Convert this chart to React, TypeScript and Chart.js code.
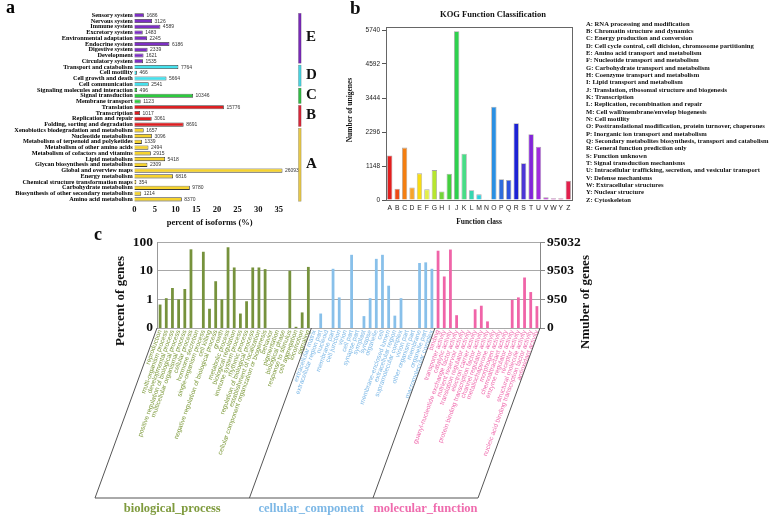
import React, { useEffect, useRef } from "react";
import { Chart, registerables } from "chart.js";

Chart.register(...registerables);

const SERIF = '"Liberation Serif", "Times New Roman", serif';
const SANS = '"Liberation Sans", Arial, sans-serif';

// ---------------- Panel a: pathway classification ----------------
const pathwayNames = [
  "Sensory system", "Nervous system", "Immune system", "Excretory system",
  "Environmental adaptation", "Endocrine system", "Digestive system", "Development",
  "Circulatory system", "Transport and catabolism", "Cell motility", "Cell growth and death",
  "Cell communication", "Signaling molecules and interaction", "Signal transduction",
  "Membrane transport", "Translation", "Transcription", "Replication and repair",
  "Folding, sorting and degradation", "Xenobiotics biodegradation and metabolism",
  "Nucleotide metabolism", "Metabolism of terpenoid and polyketides",
  "Metabolism of other amino acids", "Metabolism of cofactors and vitamins",
  "Lipid metabolism", "Glycan biosynthesis and metabolism", "Global and overview maps",
  "Energy metabolism", "Chemical structure transformation maps", "Carbohydrate metabolism",
  "Biosynthesis of other secondary metabolism", "Amino acid metabolism",
];
const pathwayCounts = [
  1686, 3126, 4589, 1483, 2245, 6186, 2339, 1621, 1535, 7764, 466, 5664, 2541, 496, 10346,
  1123, 15776, 1017, 3061, 8691, 1657, 3096, 1339, 2494, 2915, 5418, 2309, 26093, 6816, 354,
  9780, 1214, 8370,
];
const pathwayClass = [
  "E", "E", "E", "E", "E", "E", "E", "E", "E",
  "D", "D", "D", "D",
  "C", "C", "C",
  "B", "B", "B", "B",
  "A", "A", "A", "A", "A", "A", "A", "A", "A", "A", "A", "A", "A",
];
const totalIsoforms = 72700;
const classLetters = ["E", "D", "C", "B", "A"];
const classBarColors: Record<string, string> = {
  E: "#7d2fc4", D: "#45e2ee", C: "#2ccb3e", B: "#de1f22", A: "#f6d32e",
};
const classLineColors: Record<string, string> = {
  E: "#7a2ab8", D: "#48d3e0", C: "#33bb46", B: "#d8283a", A: "#e6c84a",
};

// ---------------- Panel b: KOG ----------------
const kogLetters = ["A", "B", "C", "D", "E", "F", "G", "H", "I", "J", "K", "L", "M", "N", "O", "P", "Q", "R", "S", "T", "U", "V", "W", "Y", "Z"];
const kogCounts = [1500, 380, 1770, 420, 900, 360, 1010, 290, 890, 5700, 1560, 330, 190, 25, 3150, 700, 675, 2590, 1240, 2220, 1800, 90, 60, 60, 650];
const kogColors = [
  "#e31f1f", "#ec4a16", "#f47e10", "#f5a42c", "#f8dc14", "#e2ee4a", "#b6e62e", "#74d43a",
  "#44cf3e", "#2ed14e", "#48dc86", "#36d6b0", "#2ccfdc", "#22aee2", "#2a8fe2", "#2e6cdc",
  "#2c52de", "#1c22d4", "#4c36d6", "#8224d8", "#a12ade", "#b42ccc", "#c42ab4", "#d8268e", "#e2204c",
];
const kogTickValues = [0, 1148, 2296, 3444, 4592, 5740];
const kogDescriptions = [
  "A: RNA processing and modification",
  "B: Chromatin structure and dynamics",
  "C: Energy production and conversion",
  "D: Cell cycle control, cell dicision, chromosome partitioning",
  "E: Amino acid transport and metabolism",
  "F: Nucleotide transport and metabolism",
  "G: Carbohydrate transport and metabolism",
  "H: Coenzyme transport and metabolism",
  "I: Lipid transport and metabolism",
  "J: Translation, ribosomal structure and biogenesis",
  "K: Transcription",
  "L: Replication, recombination and repair",
  "M: Cell wall/membrane/envelop biogenesis",
  "N: Cell motility",
  "O: Posttranslational modification, protein turnover, chaperones",
  "P: Inorganic ion transport and metabolism",
  "Q: Secondary metabolites biosynthesis, transport and catabolism",
  "R: General function prediction only",
  "S: Function unknown",
  "T: Signal transduction mechanisms",
  "U: Intracellular trafficking, secretion, and vesicular transport",
  "V: Defense mechanisms",
  "W: Extracellular structures",
  "Y: Nuclear structure",
  "Z: Cytoskeleton",
];

// ---------------- Panel c: GO ----------------
const bpTerms = [
  "reproduction", "multi-organism process", "developmental process",
  "positive regulation of biological process", "multicellular organismal process",
  "cellular process", "hormone secretion", "single-organism process", "cell killing",
  "negative regulation of biological process", "growth", "metabolic process",
  "biological regulation", "immune system process", "rhythmic process",
  "regulation of biological process", "establishment of localization",
  "cellular component organization or biogenesis", "behavior", "pigmentation",
  "biological phase", "response to stimulus", "cell aggregation", "locomotion", "signaling",
];
const bpPercent = [0.66, 1.1, 2.5, 1.0, 2.3, 56, null, 46, 0.47, 4.3, 1.0, 66, 13, 0.32, 0.86, 13, 13, 11.4, null, null, null, 10, 0.11, 0.35, 13.6];
const ccTerms = [
  "extracellular matrix", "extracellular region part", "nucleoid", "membrane part",
  "cell junction", "virion", "cell part", "synapse part", "symplast", "synapse", "organelle",
  "cell", "membrane-enclosed lumen", "extracellular region", "supramolecular complex",
  "virion part", "other organism part", "membrane", "organelle part", "macromolecular complex",
];
const ccPercent = [null, 0.32, null, 11.7, 1.17, null, 36, null, 0.26, 1.1, 26, 36, 3.0, 0.27, 1.1, null, null, 18.6, 19.6, 11.7];
const mfTerms = [
  "binding", "transporter activity", "catalytic activity",
  "guanyl-nucleotide exchange factor activity", "nutrient reservoir activity",
  "translation regulator activity", "electron carrier activity",
  "protein binding transcription factor activity", "channel regulator activity",
  "metallochaperone activity", "morphogen activity", "chemoattractant activity",
  "enzyme regulator activity", "receptor activity", "structural molecule activity",
  "nucleic acid binding transcription factor activity", "antioxidant activity",
];
const mfPercent = [50, 6.3, 55, 0.28, null, null, 0.45, 0.6, 0.17, null, null, null, 0.95, 1.17, 5.8, 1.8, 0.58];
const goGroupNames = ["biological_process", "cellular_component", "molecular_function"];
const goBarColors = ["#76923c", "#88c0ea", "#f064a8"];
const goTextColors = ["#7f9b3e", "#7db8e6", "#ef6cae"];
const percentTickValues = [0.1, 1, 10, 100];
const percentTickLabels = ["0", "1", "10", "100"];
const geneCountTickLabels = ["0", "950", "9503", "95032"];

// ---------------- Chart builders ----------------
function buildA(canvas: HTMLCanvasElement) {
  const W = 340, H = 230;
  const areaLeft = 134.3, areaRight = 285, areaTop = 12.4, areaBottom = 202.2;
  const percents = pathwayCounts.map((c) => (c / totalIsoforms) * 100);
  const extras = {
    id: "aExtras",
    afterDraw(chart: any) {
      const ctx = chart.ctx;
      const meta = chart.getDatasetMeta(0);
      ctx.save();
      ctx.font = `5px ${SANS}`;
      ctx.fillStyle = "#333";
      ctx.textBaseline = "middle";
      ctx.textAlign = "left";
      meta.data.forEach((el: any, i: number) => {
        ctx.fillText(String(pathwayCounts[i]), el.x + 2.5, el.y + 0.3);
      });
      const ys = chart.scales.y;
      const step = ys.getPixelForValue(1) - ys.getPixelForValue(0);
      classLetters.forEach((k) => {
        const idx = pathwayClass.map((c, i) => (c === k ? i : -1)).filter((i) => i >= 0);
        const y1 = ys.getPixelForValue(idx[0]) - step / 2 + 1;
        const y2 = ys.getPixelForValue(idx[idx.length - 1]) + step / 2 - 1;
        ctx.fillStyle = classLineColors[k];
        ctx.fillRect(298.5, y1, 2.6, y2 - y1);
        ctx.strokeStyle = "rgba(0,0,0,0.35)";
        ctx.lineWidth = 0.5;
        ctx.strokeRect(298.5, y1, 2.6, y2 - y1);
        ctx.fillStyle = "#111";
        ctx.font = `bold 15px ${SERIF}`;
        ctx.textAlign = "left";
        ctx.textBaseline = "middle";
        ctx.fillText(k, 306, (y1 + y2) / 2 - 1);
      });
      ctx.font = `bold 18px ${SERIF}`;
      ctx.textBaseline = "alphabetic";
      ctx.fillStyle = "#000";
      ctx.fillText("a", 6, 13);
      ctx.restore();
    },
  };
  return new Chart(canvas, {
    type: "bar",
    data: {
      labels: pathwayNames,
      datasets: [{
        data: percents,
        backgroundColor: pathwayClass.map((k) => classBarColors[k]),
        borderColor: "#3a3a3a",
        borderWidth: 0.8,
        barPercentage: 0.72,
        categoryPercentage: 1,
      }],
    },
    options: {
      indexAxis: "y",
      responsive: false,
      animation: false,
      events: [],
      layout: { padding: { left: 0, right: W - areaRight, top: areaTop, bottom: 0 } },
      plugins: { legend: { display: false }, tooltip: { enabled: false } },
      scales: {
        x: {
          type: "linear", min: 0, max: 36.5,
          ticks: { stepSize: 5, includeBounds: false, font: { family: SERIF, weight: "bold", size: 8.5 }, color: "#111", padding: 2, maxRotation: 0 },
          grid: { display: false, drawTicks: false },
          border: { display: false },
          title: { display: true, text: "percent of isoforms (%)", font: { family: SERIF, weight: "bold", size: 8.5 }, color: "#111", padding: { top: 0, bottom: 2 } },
          afterFit: (s: any) => { s.height = H - areaBottom; },
        },
        y: {
          ticks: { autoSkip: false, font: { family: SERIF, weight: "bold", size: 6.3 }, color: "#000", padding: 1.5 },
          grid: { display: false, drawTicks: false },
          border: { display: false },
          afterFit: (s: any) => { s.width = areaLeft; },
        },
      },
    } as any,
    plugins: [extras],
  });
}

function buildB(canvas: HTMLCanvasElement) {
  const W = 438, H = 230;
  const areaLeft = 46, areaRight = 232, areaTop = 30, areaBottom = 200;
  const extras = {
    id: "bExtras",
    afterDraw(chart: any) {
      const ctx = chart.ctx;
      const a = chart.chartArea;
      ctx.save();
      ctx.strokeStyle = "#666";
      ctx.lineWidth = 1;
      ctx.strokeRect(a.left + 0.5, a.top - 2.5, a.right - a.left, a.bottom - a.top + 3);
      ctx.fillStyle = "#111";
      ctx.font = `bold 8.5px ${SERIF}`;
      ctx.textAlign = "center";
      ctx.textBaseline = "middle";
      ctx.fillText("KOG Function Classification", 153, 15);
      ctx.font = `bold 7.5px ${SERIF}`;
      ctx.fillText("Function class", (a.left + a.right) / 2, 222);
      ctx.save();
      ctx.translate(10, (a.top + a.bottom) / 2 - 5);
      ctx.rotate(-Math.PI / 2);
      ctx.fillText("Number of unigenes", 0, 0);
      ctx.restore();
      ctx.font = `bold 6.6px ${SERIF}`;
      ctx.textAlign = "left";
      kogDescriptions.forEach((t, i) => {
        ctx.fillText(t, 246, 24 + i * 7.33);
      });
      ctx.font = `bold 19px ${SERIF}`;
      ctx.textAlign = "left";
      ctx.textBaseline = "alphabetic";
      ctx.fillText("b", 10, 14);
      ctx.restore();
    },
  };
  return new Chart(canvas, {
    type: "bar",
    data: {
      labels: kogLetters,
      datasets: [{
        data: kogCounts,
        backgroundColor: kogColors,
        borderColor: "rgba(0,0,0,0.35)",
        borderWidth: 0.8,
        barPercentage: 0.72,
        categoryPercentage: 1,
      }],
    },
    options: {
      responsive: false,
      animation: false,
      events: [],
      layout: { padding: { left: 0, right: W - areaRight, top: areaTop, bottom: 0 } },
      plugins: { legend: { display: false }, tooltip: { enabled: false } },
      scales: {
        x: {
          ticks: { autoSkip: false, maxRotation: 0, font: { family: SANS, size: 6.8 }, color: "#222", padding: 4 },
          grid: { display: false, drawTicks: false },
          border: { display: false },
          afterFit: (s: any) => { s.height = H - areaBottom; },
        },
        y: {
          min: 0, max: 5740,
          afterBuildTicks: (s: any) => { s.ticks = kogTickValues.map((v) => ({ value: v })); },
          ticks: { font: { family: SANS, size: 6.5 }, color: "#222", padding: 2, callback: (v: any) => String(v) },
          grid: { drawOnChartArea: false, tickLength: 4, color: "#555" },
          border: { display: false },
          afterFit: (s: any) => { s.width = areaLeft; },
        },
      },
    } as any,
    plugins: [extras],
  });
}

function buildC(canvas: HTMLCanvasElement) {
  const W = 778, H = 285;
  const areaLeft = 157, areaRight = 540, areaTop = 8, areaBottom = 98;
  const labels = [...bpTerms, ...ccTerms, ...mfTerms];
  const values = [...bpPercent, ...ccPercent, ...mfPercent];
  const groupOf = [
    ...bpTerms.map(() => 0), ...ccTerms.map(() => 1), ...mfTerms.map(() => 2),
  ];
  const slantX = 62, slantY = 170;
  const extras = {
    id: "cExtras",
    afterDraw(chart: any) {
      const ctx = chart.ctx;
      const a = chart.chartArea;
      const xs = chart.scales.x;
      const nb = bpTerms.length, nc = ccTerms.length;
      const bounds = [
        a.left,
        xs.getPixelForValue(nb - 0.5),
        xs.getPixelForValue(nb + nc - 0.5),
        a.right,
      ];
      ctx.save();
      ctx.strokeStyle = "#555";
      ctx.lineWidth = 1;
      ctx.beginPath();
      bounds.forEach((bx) => {
        ctx.moveTo(bx, a.bottom);
        ctx.lineTo(bx - slantX, a.bottom + slantY);
      });
      ctx.moveTo(bounds[0] - slantX, a.bottom + slantY);
      ctx.lineTo(bounds[3] - slantX, a.bottom + slantY);
      ctx.stroke();
      ctx.font = `bold 12.5px ${SERIF}`;
      ctx.textAlign = "center";
      ctx.textBaseline = "middle";
      goGroupNames.forEach((g, i) => {
        ctx.fillStyle = goTextColors[i];
        const cx = (bounds[i] + bounds[i + 1]) / 2 - slantX;
        ctx.fillText(g, cx, a.bottom + slantY + 11);
      });
      ctx.fillStyle = "#111";
      ctx.font = `bold 13px ${SERIF}`;
      ctx.save();
      ctx.translate(121, 71);
      ctx.rotate(-Math.PI / 2);
      ctx.fillText("Percent of genes", 0, 0);
      ctx.restore();
      ctx.save();
      ctx.translate(586, 72);
      ctx.rotate(-Math.PI / 2);
      ctx.fillText("Nmuber of genes", 0, 0);
      ctx.restore();
      ctx.font = `bold 18px ${SERIF}`;
      ctx.textAlign = "left";
      ctx.textBaseline = "alphabetic";
      ctx.fillText("c", 94, 10);
      ctx.restore();
    },
  };
  return new Chart(canvas, {
    type: "bar",
    data: {
      labels,
      datasets: [{
        data: values,
        backgroundColor: groupOf.map((g) => goBarColors[g]),
        borderWidth: 0,
        barPercentage: 0.45,
        categoryPercentage: 1,
      }],
    },
    options: {
      responsive: false,
      animation: false,
      events: [],
      layout: { padding: { left: 0, right: 0, top: areaTop, bottom: 0 } },
      plugins: { legend: { display: false }, tooltip: { enabled: false } },
      scales: {
        x: {
          ticks: {
            autoSkip: false, minRotation: 70, maxRotation: 70,
            font: { family: SANS, size: 6.5 },
            color: (c: any) => goTextColors[groupOf[c.index] ?? 0],
            padding: 1,
          },
          grid: { display: false, drawTicks: false },
          border: { display: false },
          afterFit: (s: any) => { s.height = H - areaBottom; },
        },
        y: {
          type: "logarithmic", position: "left", min: 0.1, max: 100,
          afterBuildTicks: (s: any) => { s.ticks = percentTickValues.map((v) => ({ value: v })); },
          ticks: { font: { family: SERIF, weight: "bold", size: 13.5 }, color: "#111", padding: 4, callback: (_v: any, i: number) => percentTickLabels[i] },
          grid: { color: "#a8a8a8", lineWidth: 1, drawTicks: false },
          border: { display: true, color: "#999" },
          afterFit: (s: any) => { s.width = areaLeft; },
        },
        y2: {
          type: "logarithmic", position: "right", min: 0.1, max: 100,
          afterBuildTicks: (s: any) => { s.ticks = percentTickValues.map((v) => ({ value: v })); },
          ticks: { font: { family: SERIF, weight: "bold", size: 13.5 }, color: "#111", padding: 2, callback: (_v: any, i: number) => geneCountTickLabels[i] },
          grid: { drawOnChartArea: false, tickLength: 5, color: "#888" },
          border: { display: true, color: "#888" },
          afterFit: (s: any) => { s.width = W - areaRight; },
        },
      },
    } as any,
    plugins: [extras],
  });
}

export default function App() {
  const refA = useRef<HTMLCanvasElement>(null);
  const refB = useRef<HTMLCanvasElement>(null);
  const refC = useRef<HTMLCanvasElement>(null);
  useEffect(() => {
    const charts = [
      buildA(refA.current!),
      buildB(refB.current!),
      buildC(refC.current!),
    ];
    return () => charts.forEach((c) => c.destroy());
  }, []);
  return (
    <div style={{ position: "absolute", left: 0, top: 0, width: 778, height: 515, background: "#fff" }}>
      <canvas ref={refA} width={340} height={230} style={{ position: "absolute", left: 0, top: 0 }} />
      <canvas ref={refB} width={438} height={230} style={{ position: "absolute", left: 340, top: 0 }} />
      <canvas ref={refC} width={778} height={285} style={{ position: "absolute", left: 0, top: 230 }} />
    </div>
  );
}
